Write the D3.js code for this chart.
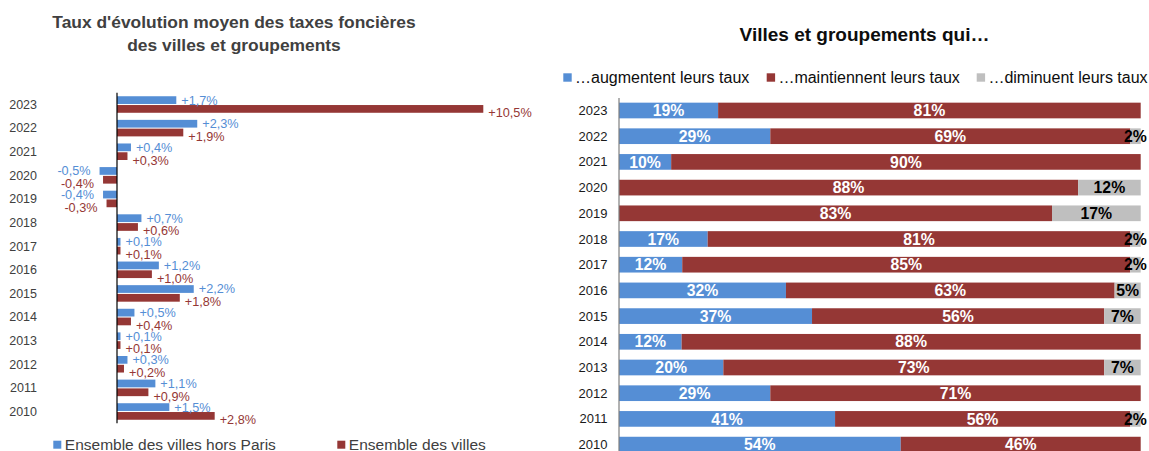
<!DOCTYPE html>
<html>
<head>
<meta charset="utf-8">
<script src="https://cdn.jsdelivr.net/npm/d3@7"></script>
<style>
  body { margin: 0; background: #fff; }
  svg { font-family: "Liberation Sans", Arial, sans-serif; display: block; }
</style>
</head>
<body>
<div id="chart"></div>
<script>
// years, top to bottom
const years = ["2023", "2022", "2021", "2020", "2019", "2018", "2017", "2016", "2015", "2014", "2013", "2012", "2011", "2010"];

// left chart: taux d'évolution (%)
const horsParis = [1.7, 2.3, 0.4, -0.5, -0.4, 0.7, 0.1, 1.2, 2.2, 0.5, 0.1, 0.3, 1.1, 1.5];
const ensemble = [10.5, 1.9, 0.3, -0.4, -0.3, 0.6, 0.1, 1.0, 1.8, 0.4, 0.1, 0.2, 0.9, 2.8];
const leftSeries = ["Ensemble des villes hors Paris", "Ensemble des villes"];

// right chart: part des villes (%)
const augmentent = [19, 29, 10, 0, 0, 17, 12, 32, 37, 12, 20, 29, 41, 54];
const maintiennent = [81, 69, 90, 88, 83, 81, 85, 63, 56, 88, 73, 71, 56, 46];
const diminuent = [0, 2, 0, 12, 17, 2, 2, 5, 7, 0, 7, 0, 2, 0];
const rightKeys = ["aug", "maint", "dim"];
const rightLabels = ["…augmentent leurs taux", "…maintiennent leurs taux", "…diminuent leurs taux"];

const blue = "#558ed5", red = "#953735", grey = "#bfbfbf";

const svg = d3.select("#chart")
  .append("svg")
    .attr("width", 1149)
    .attr("height", 451);

// ---------- left chart ----------
const left = svg.append("g");

left.append("text")
  .attr("x", 234).attr("y", 28)
  .attr("text-anchor", "middle")
  .attr("font-size", 17.4).attr("font-weight", "bold").attr("fill", "#404040")
  .text("Taux d'évolution moyen des taxes foncières");
left.append("text")
  .attr("x", 234).attr("y", 50.5)
  .attr("text-anchor", "middle")
  .attr("font-size", 17.4).attr("font-weight", "bold").attr("fill", "#404040")
  .text("des villes et groupements");

const yL = d3.scaleBand()
  .domain(years)
  .range([92.7, 423.3])
  .paddingInner(0.3)
  .paddingOuter(0.15);

const ySub = d3.scaleBand()
  .domain([0, 1])
  .range([0, yL.bandwidth()])
  .paddingInner(0.12);

// ~35 px per point of %
const xL = d3.scaleLinear()
  .domain([0, 10.5])
  .range([117, 483.3]);

const leftData = years.map((y, i) => ({year: y, vals: [horsParis[i], ensemble[i]]}));
const fmt = v => (v >= 0 ? "+" : "-") + d3.format(".1f")(Math.abs(v)).replace(".", ",") + "%";

const rows = left.selectAll("g.row")
  .data(leftData)
  .enter().append("g")
    .attr("class", "row")
    .attr("transform", d => `translate(0,${yL(d.year)})`);

rows.selectAll("rect")
  .data(d => d.vals)
  .enter().append("rect")
    .attr("x", v => xL(Math.min(0, v)))
    .attr("y", (v, i) => ySub(i))
    .attr("width", v => Math.abs(xL(v) - xL(0)))
    .attr("height", ySub.bandwidth())
    .attr("fill", (v, i) => i === 0 ? blue : red);

rows.selectAll("text.lbl")
  .data(d => d.vals)
  .enter().append("text")
    .attr("class", "lbl")
    .attr("x", v => v >= 0 ? xL(v) + 5 : xL(v) - 9)
    .attr("y", (v, i) => ySub(i) + ySub.bandwidth() / 2 + (i === 0 ? 0 : 4))
    .attr("dy", "0.35em")
    .attr("text-anchor", v => v >= 0 ? "start" : "end")
    .attr("font-size", 12.7)
    .attr("fill", (v, i) => i === 0 ? blue : red)
    .text(fmt);

// year labels
left.selectAll("text.year")
  .data(years)
  .enter().append("text")
    .attr("class", "year")
    .attr("x", 37)
    .attr("y", d => yL(d) + yL.bandwidth() / 2)
    .attr("dy", "0.35em")
    .attr("text-anchor", "end")
    .attr("font-size", 12.5)
    .attr("fill", "#404040")
    .text(d => d);

left.append("line")
  .attr("x1", xL(0)).attr("x2", xL(0))
  .attr("y1", 92.7).attr("y2", 423.3)
  .attr("stroke", "#000").attr("stroke-width", 1.2);

// legend
const legL = left.selectAll("g.leg")
  .data(leftSeries)
  .enter().append("g")
    .attr("class", "leg")
    .attr("transform", (d, i) => `translate(${i === 0 ? 53.3 : 337.3},440.7)`);
legL.append("rect")
  .attr("width", 8).attr("height", 8)
  .attr("fill", (d, i) => i === 0 ? blue : red);
legL.append("text")
  .attr("x", 11.5).attr("y", 8.8)
  .attr("font-size", 15.5)
  .attr("fill", "#404040")
  .text(d => d);

// ---------- right chart ----------
const right = svg.append("g");

right.append("text")
  .attr("x", 864.5).attr("y", 41)
  .attr("text-anchor", "middle")
  .attr("font-size", 19).attr("font-weight", "bold").attr("fill", "#0d0d0d")
  .text("Villes et groupements qui…");

const rightData = years.map((y, i) => ({year: y, aug: augmentent[i], maint: maintiennent[i], dim: diminuent[i]}));

const stack = d3.stack()
  .keys(rightKeys)
  .offset(d3.stackOffsetExpand);
const layers = stack(rightData);

const xR = d3.scaleLinear()
  .domain([0, 1])
  .range([619, 1140.7]);

const yR = d3.scaleBand()
  .domain(years)
  .range([97.65, 457.45])
  .paddingInner(0.39)
  .paddingOuter(0.195);

const zR = d3.scaleOrdinal()
  .domain(rightKeys)
  .range([blue, red, grey]);

const layer = right.selectAll("g.layer")
  .data(layers)
  .enter().append("g")
    .attr("class", "layer")
    .attr("fill", d => zR(d.key));

layer.selectAll("rect")
  .data(d => d)
  .enter().append("rect")
    .attr("x", d => xR(d[0]))
    .attr("y", d => yR(d.data.year))
    .attr("width", d => xR(d[1]) - xR(d[0]))
    .attr("height", yR.bandwidth());

layer.selectAll("text")
  .data(d => d.map(p => Object.assign({key: d.key}, p)).filter(p => p.data[d.key] > 0))
  .enter().append("text")
    .attr("x", d => (xR(d[0]) + xR(d[1])) / 2)
    .attr("y", d => yR(d.data.year) + yR.bandwidth() / 2)
    .attr("dy", "0.36em")
    .attr("text-anchor", "middle")
    .attr("font-size", 15.8)
    .attr("font-weight", "bold")
    .attr("fill", d => d.key === "dim" ? "#000" : "#fff")
    .text(d => d.data[d.key] + "%");

right.selectAll("text.year")
  .data(years)
  .enter().append("text")
    .attr("class", "year")
    .attr("x", 607.5)
    .attr("y", d => yR(d) + yR.bandwidth() / 2)
    .attr("dy", "0.35em")
    .attr("text-anchor", "end")
    .attr("font-size", 13)
    .attr("fill", "#1a1a1a")
    .text(d => d);

right.append("line")
  .attr("x1", 619).attr("x2", 619)
  .attr("y1", 98).attr("y2", 451)
  .attr("stroke", "#7f7f7f").attr("stroke-width", 1.2);

// legend
const legX = [563.3, 766.7, 976.7];
const legR = right.selectAll("g.leg")
  .data(rightLabels)
  .enter().append("g")
    .attr("class", "leg")
    .attr("transform", (d, i) => `translate(${legX[i]},73.3)`);
legR.append("rect")
  .attr("width", 8.4).attr("height", 8.4)
  .attr("fill", (d, i) => zR(rightKeys[i]));
legR.append("text")
  .attr("x", 11.7).attr("y", 9.7)
  .attr("font-size", 16)
  .attr("fill", "#0d0d0d")
  .text(d => d);
</script>
</body>
</html>
